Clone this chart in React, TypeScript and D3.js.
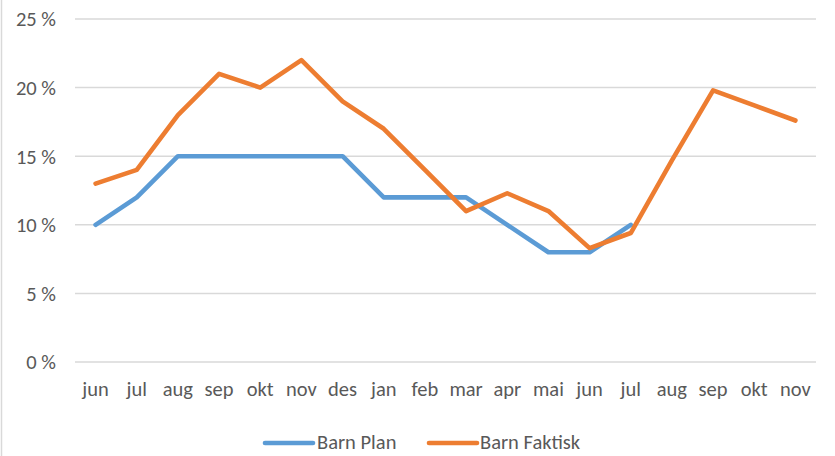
import React from "react";
import * as d3 from "d3";

const categories = ["jun","jul","aug","sep","okt","nov","des","jan","feb","mar","apr","mai","jun","jul","aug","sep","okt","nov"];
const barnPlan: (number | null)[] = [10,12,15,15,15,15,15,12,12,12,10,8,8,10,null,null,null,null];
const barnFaktisk: (number | null)[] = [13,14,18,21,20,22,19,17,14,11,12.3,11,8.3,9.4,14.7,19.8,18.7,17.6];
const yTicks = [0,5,10,15,20,25];
const seriesNames = ["Barn Plan","Barn Faktisk"];
const colors = ["#5B9BD5","#ED7D31"];

export default function App() {
  const W = 835, H = 456;
  const x = d3.scaleBand<number>().domain(categories.map((_, i) => i)).range([75, 816]).padding(0);
  const y = d3.scaleLinear().domain([0, 25]).range([362, 19]);
  const cx = (i: number) => (x(i) as number) + x.bandwidth() / 2;
  const line = d3.line<number | null>()
    .defined(d => d !== null)
    .x((_, i) => cx(i))
    .y(d => y(d as number));
  const font = "Calibri, Carlito, Lato, sans-serif";
  const fs = 20.5;
  return (
    <svg width={W} height={H} style={{ position: "absolute", left: 0, top: 0, background: "#fff" }} fontFamily={font}>
      <line x1={1.5} x2={1.5} y1={0} y2={H} stroke="#D9D9D9" strokeWidth={1.5} />
      {yTicks.map(t => (
        <g key={t}>
          <line x1={75} x2={816} y1={y(t)} y2={y(t)} stroke="#D9D9D9" strokeWidth={1.5} />
          <text x={56} y={y(t)} dy="0.36em" textAnchor="end" fontSize={fs} fill="#595959">{t} %</text>
        </g>
      ))}
      {categories.map((c, i) => (
        <text key={i} x={cx(i)} y={389} dy="0.36em" textAnchor="middle" fontSize={fs} fill="#595959">{c}</text>
      ))}
      {[barnPlan, barnFaktisk].map((s, k) => (
        <path key={k} d={line(s) || ""} fill="none" stroke={colors[k]} strokeWidth={4.6} strokeLinejoin="round" strokeLinecap="round" />
      ))}
      <g>
        <line x1={265} x2={313} y1={443} y2={443} stroke={colors[0]} strokeWidth={4.6} strokeLinecap="round" />
        <text x={317} y={449} fontSize={fs} fill="#595959">{seriesNames[0]}</text>
        <line x1={429} x2={477} y1={443} y2={443} stroke={colors[1]} strokeWidth={4.6} strokeLinecap="round" />
        <text x={480} y={449} fontSize={fs} fill="#595959">{seriesNames[1]}</text>
      </g>
    </svg>
  );
}
